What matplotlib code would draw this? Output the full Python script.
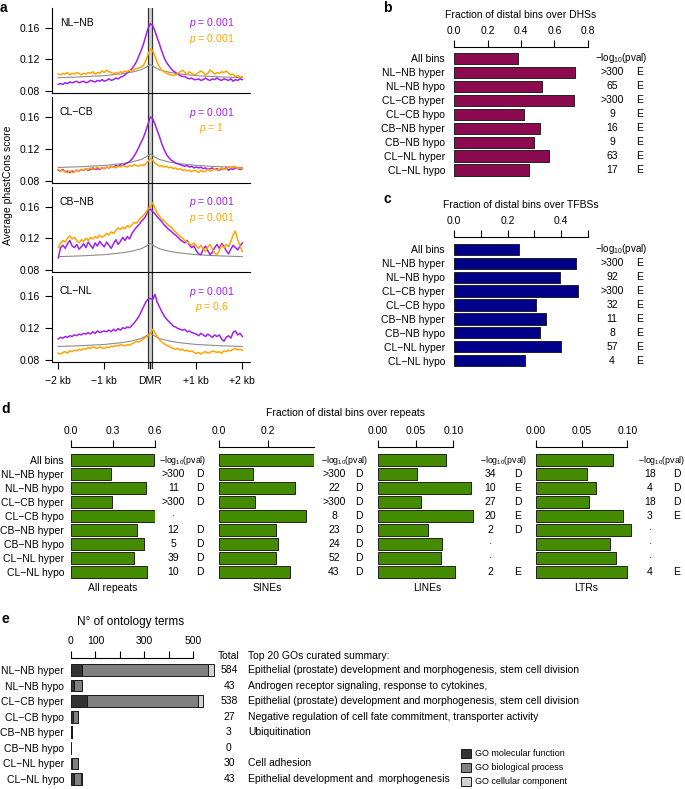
import numpy as np
import matplotlib
matplotlib.use('Agg')
import matplotlib.pyplot as plt
import matplotlib.transforms as mtrans
from matplotlib.patches import Patch

plt.rcParams['font.family'] = ['Liberation Sans', 'DejaVu Sans']
plt.rcParams['mathtext.fontset'] = 'custom'
plt.rcParams['mathtext.rm'] = 'Liberation Sans'
plt.rcParams['mathtext.it'] = 'Liberation Sans:italic'
plt.rcParams['font.size'] = 7.5
plt.rcParams['axes.linewidth'] = 0.8

W, H = 685, 789

# ---------------- panel a: phastCons profiles ----------------
pairs = ['NL−NB', 'CL−CB', 'CB−NB', 'CL−NL']
pos = np.linspace(-2, 2, 81)  # bin centres (kb)

cons_purple = [
    [0.088, 0.089, 0.088, 0.090, 0.089, 0.091, 0.090, 0.091, 0.092, 0.090,
     0.091, 0.092, 0.090, 0.091, 0.093, 0.092, 0.091, 0.093, 0.092, 0.094,
     0.092, 0.093, 0.095, 0.093, 0.094, 0.096, 0.095, 0.097, 0.098, 0.100,
     0.103, 0.105, 0.108, 0.112, 0.117, 0.124, 0.131, 0.139, 0.149, 0.159,
     0.165, 0.163, 0.156, 0.147, 0.139, 0.130, 0.122, 0.116, 0.112, 0.108,
     0.105, 0.103, 0.101, 0.099, 0.098, 0.098, 0.096, 0.095, 0.096, 0.094,
     0.094, 0.095, 0.093, 0.094, 0.096, 0.094, 0.093, 0.095, 0.094, 0.096,
     0.094, 0.093, 0.095, 0.094, 0.093, 0.095, 0.092, 0.094, 0.093, 0.095, 0.094],
    [0.093, 0.092, 0.094, 0.091, 0.092, 0.090, 0.092, 0.091, 0.093, 0.092,
     0.094, 0.093, 0.095, 0.093, 0.094, 0.096, 0.094, 0.095, 0.094, 0.096,
     0.095, 0.097, 0.096, 0.098, 0.097, 0.099, 0.098, 0.100, 0.099, 0.101,
     0.102, 0.104, 0.107, 0.111, 0.116, 0.122, 0.128, 0.134, 0.142, 0.151,
     0.160, 0.158, 0.151, 0.143, 0.135, 0.126, 0.119, 0.113, 0.109, 0.106,
     0.104, 0.102, 0.101, 0.100, 0.099, 0.098, 0.099, 0.097, 0.098, 0.096,
     0.097, 0.096, 0.097, 0.095, 0.096, 0.094, 0.095, 0.096, 0.094, 0.095,
     0.093, 0.095, 0.094, 0.096, 0.093, 0.095, 0.094, 0.096, 0.095, 0.094, 0.095],
    [0.095, 0.108, 0.111, 0.107, 0.113, 0.117, 0.110, 0.108, 0.112, 0.106,
     0.109, 0.113, 0.108, 0.115, 0.111, 0.107, 0.114, 0.110, 0.116, 0.112,
     0.109, 0.115, 0.111, 0.107, 0.113, 0.118, 0.112, 0.116, 0.121, 0.117,
     0.122, 0.119, 0.126, 0.130, 0.134, 0.137, 0.141, 0.144, 0.148, 0.155,
     0.157, 0.154, 0.151, 0.147, 0.144, 0.141, 0.137, 0.134, 0.131, 0.129,
     0.126, 0.124, 0.121, 0.118, 0.116, 0.114, 0.117, 0.111, 0.108, 0.110,
     0.104, 0.100, 0.099, 0.106, 0.110, 0.104, 0.099, 0.102, 0.108, 0.112,
     0.107, 0.113, 0.110, 0.104, 0.100, 0.106, 0.111, 0.108, 0.105, 0.110, 0.114],
    [0.106, 0.108, 0.107, 0.109, 0.108, 0.110, 0.109, 0.111, 0.110, 0.112,
     0.111, 0.113, 0.112, 0.114, 0.112, 0.115, 0.113, 0.116, 0.114, 0.115,
     0.116, 0.115, 0.117, 0.115, 0.118, 0.116, 0.119, 0.117, 0.120, 0.119,
     0.121, 0.120, 0.123, 0.126, 0.130, 0.134, 0.140, 0.146, 0.152, 0.156,
     0.157, 0.155, 0.162, 0.152, 0.146, 0.140, 0.135, 0.131, 0.128, 0.125,
     0.122, 0.121, 0.119, 0.118, 0.117, 0.118, 0.115, 0.116, 0.114, 0.113,
     0.112, 0.110, 0.113, 0.111, 0.109, 0.112, 0.110, 0.108, 0.111, 0.109,
     0.111, 0.106, 0.103, 0.108, 0.110, 0.107, 0.114, 0.116, 0.111, 0.113, 0.109],
]

cons_orange = [
    [0.101, 0.100, 0.102, 0.101, 0.103, 0.100, 0.102, 0.101, 0.103, 0.102,
     0.100, 0.102, 0.101, 0.103, 0.102, 0.104, 0.101, 0.103, 0.102, 0.105,
     0.103, 0.106, 0.104, 0.103, 0.101, 0.103, 0.102, 0.104, 0.103, 0.105,
     0.104, 0.106, 0.105, 0.107, 0.108, 0.109, 0.110, 0.112, 0.118, 0.126,
     0.133, 0.131, 0.124, 0.116, 0.110, 0.106, 0.104, 0.102, 0.101, 0.100,
     0.099, 0.100, 0.102, 0.104, 0.106, 0.103, 0.101, 0.104, 0.102, 0.100,
     0.101, 0.103, 0.105, 0.103, 0.100, 0.102, 0.106, 0.104, 0.101, 0.103,
     0.102, 0.104, 0.103, 0.105, 0.102, 0.100, 0.101, 0.098, 0.099, 0.097, 0.098],
    [0.094, 0.092, 0.093, 0.091, 0.090, 0.092, 0.090, 0.091, 0.093, 0.092,
     0.094, 0.093, 0.095, 0.094, 0.096, 0.094, 0.095, 0.097, 0.095, 0.096,
     0.095, 0.097, 0.096, 0.098, 0.097, 0.096, 0.098, 0.097, 0.099, 0.098,
     0.097, 0.099, 0.098, 0.100, 0.099, 0.098, 0.100, 0.099, 0.101, 0.104,
     0.108, 0.106, 0.102, 0.100, 0.098, 0.099, 0.097, 0.098, 0.096, 0.097,
     0.095, 0.096, 0.094, 0.095, 0.093, 0.094, 0.092, 0.093, 0.091, 0.093,
     0.092, 0.090, 0.093, 0.091, 0.092, 0.094, 0.092, 0.093, 0.095, 0.093,
     0.094, 0.096, 0.094, 0.095, 0.097, 0.096, 0.098, 0.097, 0.095, 0.096, 0.095],
    [0.108, 0.114, 0.117, 0.115, 0.120, 0.123, 0.119, 0.121, 0.117, 0.114,
     0.118, 0.116, 0.120, 0.117, 0.121, 0.119, 0.122, 0.120, 0.124, 0.121,
     0.123, 0.126, 0.124, 0.128, 0.126, 0.130, 0.133, 0.131, 0.134, 0.132,
     0.136, 0.134, 0.137, 0.140, 0.139, 0.143, 0.146, 0.149, 0.152, 0.157,
     0.160, 0.165, 0.158, 0.152, 0.148, 0.144, 0.142, 0.139, 0.136, 0.134,
     0.131, 0.128, 0.125, 0.122, 0.120, 0.117, 0.115, 0.113, 0.111, 0.114,
     0.110, 0.107, 0.111, 0.106, 0.103, 0.109, 0.112, 0.106, 0.101, 0.099,
     0.104, 0.111, 0.108, 0.112, 0.109, 0.116, 0.124, 0.129, 0.118, 0.110, 0.103],
    [0.088, 0.087, 0.089, 0.090, 0.088, 0.091, 0.090, 0.092, 0.091, 0.093,
     0.092, 0.094, 0.093, 0.095, 0.094, 0.096, 0.095, 0.094, 0.096, 0.095,
     0.094, 0.096, 0.095, 0.097, 0.096, 0.098, 0.097, 0.099, 0.098, 0.097,
     0.099, 0.098, 0.100, 0.101, 0.103, 0.102, 0.104, 0.106, 0.108, 0.110,
     0.112, 0.118, 0.114, 0.109, 0.105, 0.102, 0.100, 0.098, 0.097, 0.095,
     0.094, 0.093, 0.094, 0.092, 0.093, 0.091, 0.092, 0.090, 0.091, 0.089,
     0.088, 0.089, 0.087, 0.089, 0.090, 0.088, 0.089, 0.091, 0.090, 0.089,
     0.090, 0.088, 0.091, 0.090, 0.092, 0.091, 0.093, 0.094, 0.092, 0.093, 0.092],
]

base_x = [-2, -1.5, -1, -0.6, -0.4, -0.2, -0.1, 0, 0.1, 0.2, 0.4, 0.6, 1, 1.5, 2]
base_y = [0.0965, 0.0975, 0.0990, 0.1015, 0.1035, 0.1065, 0.1095, 0.1135,
          0.1095, 0.1065, 0.1035, 0.1015, 0.0990, 0.0975, 0.0965]

p_purple = ['0.001', '0.001', '0.001', '0.001']
p_orange = ['0.001', '1', '0.001', '0.6']

# ---------------- panels b, c, d ----------------
rows9 = ['All bins', 'NL−NB hyper', 'NL−NB hypo', 'CL−CB hyper', 'CL−CB hypo',
         'CB−NB hyper', 'CB−NB hypo', 'CL−NL hyper', 'CL−NL hypo']

dhs_frac = [0.380, 0.726, 0.526, 0.716, 0.420, 0.516, 0.476, 0.566, 0.446]
dhs_pval = ['>300', '65', '>300', '9', '16', '9', '63', '17']
dhs_sign = ['E'] * 8

tfbs_frac = [0.241, 0.458, 0.398, 0.465, 0.306, 0.343, 0.320, 0.400, 0.266]
tfbs_pval = ['>300', '92', '>300', '32', '11', '8', '57', '4']
tfbs_sign = ['E'] * 8

rep_frac = [0.590, 0.287, 0.534, 0.294, 0.605, 0.474, 0.519, 0.448, 0.541]
rep_pval = ['>300', '11', '>300', '·', '12', '5', '39', '10']
rep_sign = ['D', 'D', 'D', '', 'D', 'D', 'D', 'D']

sine_frac = [0.388, 0.137, 0.307, 0.146, 0.352, 0.233, 0.238, 0.230, 0.287]
sine_pval = ['>300', '22', '>300', '8', '23', '24', '52', '43']
sine_sign = ['D'] * 8

line_frac = [0.0907, 0.0515, 0.1238, 0.0568, 0.1256, 0.0660, 0.0855, 0.0841, 0.1026]
line_pval = ['34', '10', '27', '20', '2', '·', '·', '2']
line_sign = ['D', 'E', 'D', 'E', 'D', '', '', 'E']

ltr_frac = [0.0839, 0.0562, 0.0660, 0.0577, 0.0956, 0.1036, 0.0810, 0.0872, 0.1000]
ltr_pval = ['18', '4', '18', '3', '·', '·', '·', '4']
ltr_sign = ['D', 'D', 'D', 'E', '', '', '', 'E']

# ---------------- panel e ----------------
rows8 = rows9[1:]
go_mf = [44, 14, 66, 9, 2, 0, 3, 12]
go_bp = [517, 29, 453, 18, 1, 0, 27, 29]
go_cc = [23, 0, 19, 0, 0, 0, 0, 2]
go_total = ['584', '43', '538', '27', '3', '0', '30', '43']
go_summary = [
    'Epithelial (prostate) development and morphogenesis, stem cell division',
    'Androgen receptor signaling, response to cytokines,',
    'Epithelial (prostate) development and morphogenesis, stem cell division',
    'Negative regulation of cell fate commitment, transporter activity',
    'Ubiquitination',
    '',
    'Cell adhesion',
    'Epithelial development and  morphogenesis',
]


def box(l, t, r, b):
    return [l / W, 1 - b / H, (r - l) / W, (b - t) / H]


fig = plt.figure(figsize=(W / 100, H / 100), dpi=100)

# ===== a =====
xl = (-2.137, 2.167)
dmr = fig.add_axes(box(52, 8, 250, 369), zorder=0)
dmr.set_xlim(*xl)
dmr.set_ylim(0, 1)
dmr.axis('off')
dmr.axvspan(-0.045, 0.045, color='#d2d2d2', lw=0)
for xv in (-0.045, 0.045):
    dmr.axvline(xv, color='#333333', lw=0.9)

tops = [8, 97, 187, 276]
bots = [93, 183, 272, 362]
for k in range(4):
    ax = fig.add_axes(box(52, tops[k], 250, bots[k]), zorder=1)
    ax.patch.set_alpha(0)
    ax.plot(base_x, base_y, color='#8c8c8c', lw=0.8)
    ax.plot(pos, cons_purple[k], color='#A020F0', lw=1.1)
    ax.plot(pos, cons_orange[k], color='#FFA500', lw=1.1)
    ax.set_xlim(*xl)
    ax.set_ylim(0.077, 0.185)
    ax.spines['top'].set_visible(False)
    ax.spines['right'].set_visible(False)
    ax.set_yticks([0.08, 0.12, 0.16])
    ax.set_yticklabels(['0.08', '0.12', '0.16'])
    ax.tick_params(axis='y', length=5, pad=4)
    if k < 3:
        ax.tick_params(axis='x', bottom=False, labelbottom=False)
    else:
        ax.set_xticks([-2, -1, 0, 1, 2])
        ax.set_xticklabels(['−2 kb', '−1 kb', 'DMR', '+1 kb', '+2 kb'])
        ax.tick_params(axis='x', length=5, pad=5)
    ax.text(0.04, 0.82, pairs[k], transform=ax.transAxes, ha='left', va='center')
    ax.text(1.34, 0.1655, '$\\mathit{p}$ = ' + p_purple[k], color='#A020F0', ha='center', va='center')
    ax.text(1.34, 0.1455, '$\\mathit{p}$ = ' + p_orange[k], color='#FFA500', ha='center', va='center')

fig.text(8 / W, 1 - 185 / H, 'Average phastCons score', rotation=90, ha='center', va='center')
fig.text(0, 1 - 1 / H, 'a', fontsize=10, fontweight='bold', ha='left', va='top')


def bar_panel(rect, vals, color, xmax, ticks, ticklabels, spine_end, ylim, labels=None, pad=6.7):
    ax = fig.add_axes(rect)
    ax.barh(np.arange(len(vals)), vals, height=0.8, color=color, edgecolor='#222222', lw=0.7)
    ax.set_xlim(0, xmax)
    ax.set_ylim(*ylim)
    for s in ['left', 'right', 'bottom']:
        ax.spines[s].set_visible(False)
    ax.spines['top'].set_bounds(0, spine_end)
    ax.xaxis.tick_top()
    ax.set_xticks(ticks)
    ax.set_xticklabels(ticklabels)
    ax.tick_params(axis='x', direction='out', length=5, width=0.8, pad=3)
    if labels:
        ax.set_yticks(range(len(labels)))
        ax.set_yticklabels(labels)
        ax.tick_params(axis='y', length=0, pad=pad)
    else:
        ax.set_yticks([])
    ax.patch.set_alpha(0)
    return ax


def pval_cols(ax, xh, xv, xs, vals, signs, fs_h=6.3):
    tr = mtrans.blended_transform_factory(fig.transFigure, ax.transData)
    ax.text(xh / W, 0, '−log$_{10}$(pval)', transform=tr, ha='center', va='center', fontsize=fs_h)
    for i in range(len(vals)):
        ax.text(xv / W, i + 1, vals[i], transform=tr, ha='center', va='center')
        ax.text(xs / W, i + 1, signs[i], transform=tr, ha='center', va='center')


# ===== b =====
axb = bar_panel(box(454.3, 47, 587.7, 178), dhs_frac, '#8B0A50', 0.8,
                [0, 0.2, 0.4, 0.6, 0.8], ['0.0', '0.2', '0.4', '0.6', '0.8'], 0.8,
                (8.57, -0.81), rows9)
pval_cols(axb, 621, 612, 640, dhs_pval, dhs_sign, fs_h=7)
fig.text(521 / W, 1 - 15 / H, 'Fraction of distal bins over DHSs', ha='center', va='center')
fig.text(383 / W, 1 - 1 / H, 'b', fontsize=10, fontweight='bold', ha='left', va='top')

# ===== c =====
axc = bar_panel(box(454.3, 237, 587.7, 368), tfbs_frac, '#00008B', 0.5,
                [0, 0.1, 0.2, 0.3, 0.4, 0.5], ['0.0', '', '0.2', '', '0.4', ''], 0.5,
                (8.52, -0.88), rows9)
pval_cols(axc, 621, 612, 640, tfbs_pval, tfbs_sign, fs_h=7)
fig.text(521 / W, 1 - 205 / H, 'Fraction of distal bins over TFBSs', ha='center', va='center')
fig.text(383 / W, 1 - 192 / H, 'c', fontsize=10, fontweight='bold', ha='left', va='top')

# ===== d =====
ylim_d = (8.6, -0.93)
green = '#458B00'
axd1 = bar_panel(box(70.7, 447, 155, 580.4), rep_frac, green, 0.6,
                 [0, 0.3, 0.6], ['0.0', '0.3', '0.6'], 0.6, ylim_d, rows9, pad=4.8)
axd2 = bar_panel(box(219.3, 447, 314.4, 580.4), sine_frac, green, 0.388,
                 [0, 0.2], ['0.0', '0.2'], 0.388, ylim_d)
axd3 = bar_panel(box(377.7, 447, 476, 580.4), line_frac, green, 0.13,
                 [0, 0.05, 0.10], ['0.00', '0.05', '0.10'], 0.10, ylim_d)
axd4 = bar_panel(box(536, 447, 636.4, 580.4), ltr_frac, green, 0.11,
                 [0, 0.05, 0.10], ['0.00', '0.05', '0.10'], 0.10, ylim_d)
pval_cols(axd1, 183, 173.5, 200, rep_pval, rep_sign)
pval_cols(axd2, 345, 334, 359, sine_pval, sine_sign)
pval_cols(axd3, 504, 490, 517.7, line_pval, line_sign)
pval_cols(axd4, 662, 650, 676.7, ltr_pval, ltr_sign)
for a, name in zip([axd1, axd2, axd3, axd4], ['All repeats', 'SINEs', 'LINEs', 'LTRs']):
    a.text(0.5, -0.057, name, transform=a.transAxes, ha='center', va='center')
fig.text(346 / W, 1 - 413 / H, 'Fraction of distal bins over repeats', ha='center', va='center')
fig.text(1 / W, 1 - 402 / H, 'd', fontsize=10, fontweight='bold', ha='left', va='top')

# ===== e =====
axe = fig.add_axes(box(71, 657.5, 217.8, 789))
yy = np.arange(len(rows8))
left = np.zeros(len(rows8))
for vals, col in [(go_mf, '#333333'), (go_bp, '#808080'), (go_cc, '#d3d3d3')]:
    axe.barh(yy, vals, left=left, height=0.75, color=col, edgecolor='#1a1a1a', lw=0.7)
    left = left + np.array(vals)
axe.set_xlim(0, 600)
axe.set_ylim(7.64, -0.80)
for s in ['left', 'right', 'bottom']:
    axe.spines[s].set_visible(False)
axe.spines['top'].set_bounds(0, 500)
axe.xaxis.tick_top()
axe.set_xticks([0, 100, 200, 300, 400, 500])
axe.set_xticklabels(['0', '100', '', '300', '', '500'])
axe.tick_params(axis='x', direction='out', length=5, width=0.8, pad=3)
axe.set_yticks(yy)
axe.set_yticklabels(rows8)
axe.tick_params(axis='y', length=0, pad=5)
axe.patch.set_alpha(0)
tre = mtrans.blended_transform_factory(fig.transFigure, axe.transData)
axe.text(229 / W, -0.9, 'Total', transform=tre, ha='center', va='center')
axe.text(248 / W, -0.9, 'Top 20 GOs curated summary:', transform=tre, ha='left', va='center')
for i in range(len(rows8)):
    axe.text(229 / W, i, go_total[i], transform=tre, ha='center', va='center')
    axe.text(248 / W, i, go_summary[i], transform=tre, ha='left', va='center')
fig.text(131 / W, 1 - 622 / H, 'N° of ontology terms', fontsize=8.5, ha='center', va='center')
fig.text(1 / W, 1 - 612 / H, 'e', fontsize=10, fontweight='bold', ha='left', va='top')

handles = [Patch(facecolor=c, edgecolor='#1a1a1a', lw=0.7) for c in ['#333333', '#808080', '#d3d3d3']]
fig.legend(handles, ['GO molecular function', 'GO biological process', 'GO cellular component'],
           loc='upper left', bbox_to_anchor=(461 / W, 1 - 749 / H), frameon=False, fontsize=6.5,
           handlelength=1.1, handleheight=1.1, handletextpad=0.5, labelspacing=0.5,
           borderpad=0, borderaxespad=0)

fig.savefig('out.png', dpi=100)
